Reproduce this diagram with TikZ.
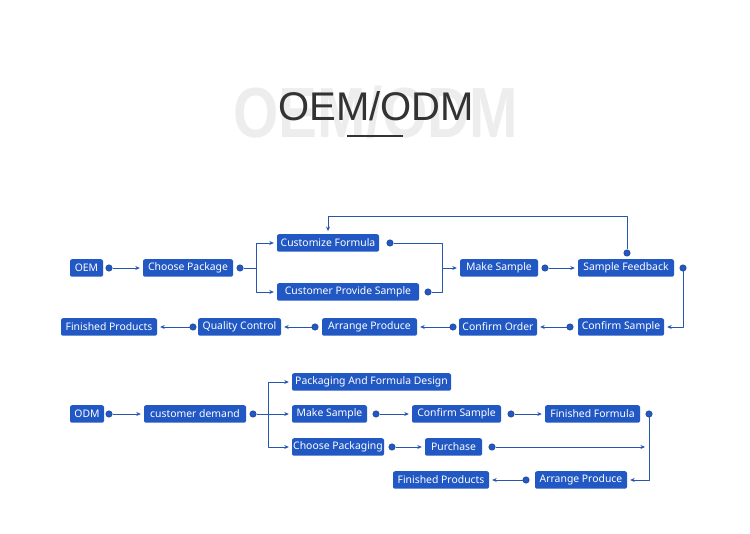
\documentclass[tikz,border=0pt]{standalone}
\usepackage{fontspec}
\setmainfont{Noto Sans}
\newfontfamily\titlefont{Liberation Sans}
\usetikzlibrary{arrows.meta}
\definecolor{flowblue}{RGB}{34,88,196}
\definecolor{lineblue}{RGB}{38,86,176}
\definecolor{ghost}{RGB}{237,237,237}
\definecolor{ink}{RGB}{51,51,51}

\begin{document}
\begin{tikzpicture}[x=1pt,y=-1pt,line join=round,
  blk/.style={fill=flowblue,text=white,rounded corners=2pt,inner sep=0pt,
    minimum height=17.5pt,font=\fontsize{10.4}{11}\selectfont},
  knob/.style={circle,fill=flowblue,draw=lineblue!75!black,line width=0.5pt,
    inner sep=0pt,minimum size=6.5pt},
  wire/.style={draw=lineblue,line width=0.9pt},
  link/.style={wire,-{Stealth[length=4.5pt,width=4pt]},shorten >=3pt}]
  \useasboundingbox[fill=white] (0,0) rectangle (750,534);
  % title
  \node[anchor=base,text=ghost,xscale=0.82,transform shape,
    font=\titlefont\bfseries\fontsize{71}{71}\selectfont] (backtitle) at (376,138) {OEM/ODM};
  \node[anchor=base,text=ink,font=\titlefont\fontsize{40}{40}\selectfont] (title) at (376,121) {OEM/ODM};
  \draw[ink,line width=2.5pt] (347,136) -- (403,136);
  % OEM
  \node[blk,minimum width=33] (oem) at (86.5,268) {OEM};
  \node[blk,minimum width=90] (choose) at (188,268) {Choose Package};
  \node[blk,minimum width=102] (formula) at (328,243) {Customize Formula};
  \node[blk,minimum width=142] (provide) at (348,292) {Customer Provide Sample};
  \node[blk,minimum width=78] (make) at (499,268) {Make Sample};
  \node[blk,minimum width=96] (feedback) at (626,268) {Sample Feedback};
  \node[blk,minimum width=86] (confirmS) at (621,327) {Confirm Sample};
  \node[blk,minimum width=78] (confirmO) at (498,327) {Confirm Order};
  \node[blk,minimum width=95] (arrange) at (369.5,327) {Arrange Produce};
  \node[blk,minimum width=83] (quality) at (239.5,327) {Quality Control};
  \node[blk,minimum width=96] (finished) at (109,327) {Finished Products};
  \node[knob] (k1) at (109,268) {};
  \node[knob] (k2) at (240,268) {};
  \node[knob] (k3) at (390,243) {};
  \node[knob] (k4) at (428,292) {};
  \node[knob] (k5) at (545,268) {};
  \node[knob] (k6) at (627,253) {};
  \node[knob] (k7) at (683,268) {};
  \node[knob] (k8) at (570,327) {};
  \node[knob] (k9) at (453,327) {};
  \node[knob] (k10) at (315,327) {};
  \node[knob] (k11) at (193,327) {};
  \coordinate (j1) at (256,268);
  \coordinate (j2) at (442,268);
  \coordinate (j3) at (683,327);
  \coordinate (t1) at (328,216);
  \draw[link] (k1) -- (choose);
  \draw[wire] (k2) -- (j1);
  \draw[link] (j1) |- (formula);
  \draw[link] (j1) |- (provide);
  \draw[wire] (k3) -| (j2);
  \draw[wire] (k4) -| (j2);
  \draw[link] (j2) -- (make);
  \draw[link] (k5) -- (feedback);
  \draw[link] (k6) |- (t1) -- (formula);
  \draw[link] (k7) -- (j3) -- (confirmS);
  \draw[link] (k8) -- (confirmO);
  \draw[link] (k9) -- (arrange);
  \draw[link] (k10) -- (quality);
  \draw[link] (k11) -- (finished);
  % ODM
  \node[blk,minimum width=34] (odm) at (87,414) {ODM};
  \node[blk,minimum width=102] (demand) at (195,414) {customer demand};
  \node[blk,minimum width=159] (design) at (371.5,382) {Packaging And Formula Design};
  \node[blk,minimum width=75] (make2) at (329.5,414) {Make Sample};
  \node[blk,minimum width=89] (confirm2) at (456.5,414) {Confirm Sample};
  \node[blk,minimum width=95] (formula2) at (592.5,414) {Finished Formula};
  \node[blk,minimum width=92] (pack2) at (338,447) {Choose Packaging};
  \node[blk,minimum width=57] (purchase) at (453.5,447) {Purchase};
  \node[blk,minimum width=92] (arrange2) at (581,480) {Arrange Produce};
  \node[blk,minimum width=96] (finished2) at (441,480) {Finished Products};
  \node[knob] (k12) at (109,414) {};
  \node[knob] (k13) at (253,414) {};
  \node[knob] (k14) at (376,414) {};
  \node[knob] (k15) at (511,414) {};
  \node[knob] (k16) at (649,414) {};
  \node[knob] (k17) at (392,447) {};
  \node[knob] (k18) at (492,447) {};
  \node[knob] (k19) at (526,480) {};
  \coordinate (j4) at (268,414);
  \coordinate (j5) at (649,480);
  \coordinate (e1) at (648,447);
  \draw[link] (k12) -- (demand);
  \draw[wire] (k13) -- (j4);
  \draw[link] (j4) |- (design);
  \draw[link] (j4) -- (make2);
  \draw[link] (j4) |- (pack2);
  \draw[link] (k14) -- (confirm2);
  \draw[link] (k15) -- (formula2);
  \draw[link] (k16) -- (j5) -- (arrange2);
  \draw[link] (k17) -- (purchase);
  \draw[link] (k18) -- (e1);
  \draw[link] (k19) -- (finished2);
\end{tikzpicture}
\end{document}
